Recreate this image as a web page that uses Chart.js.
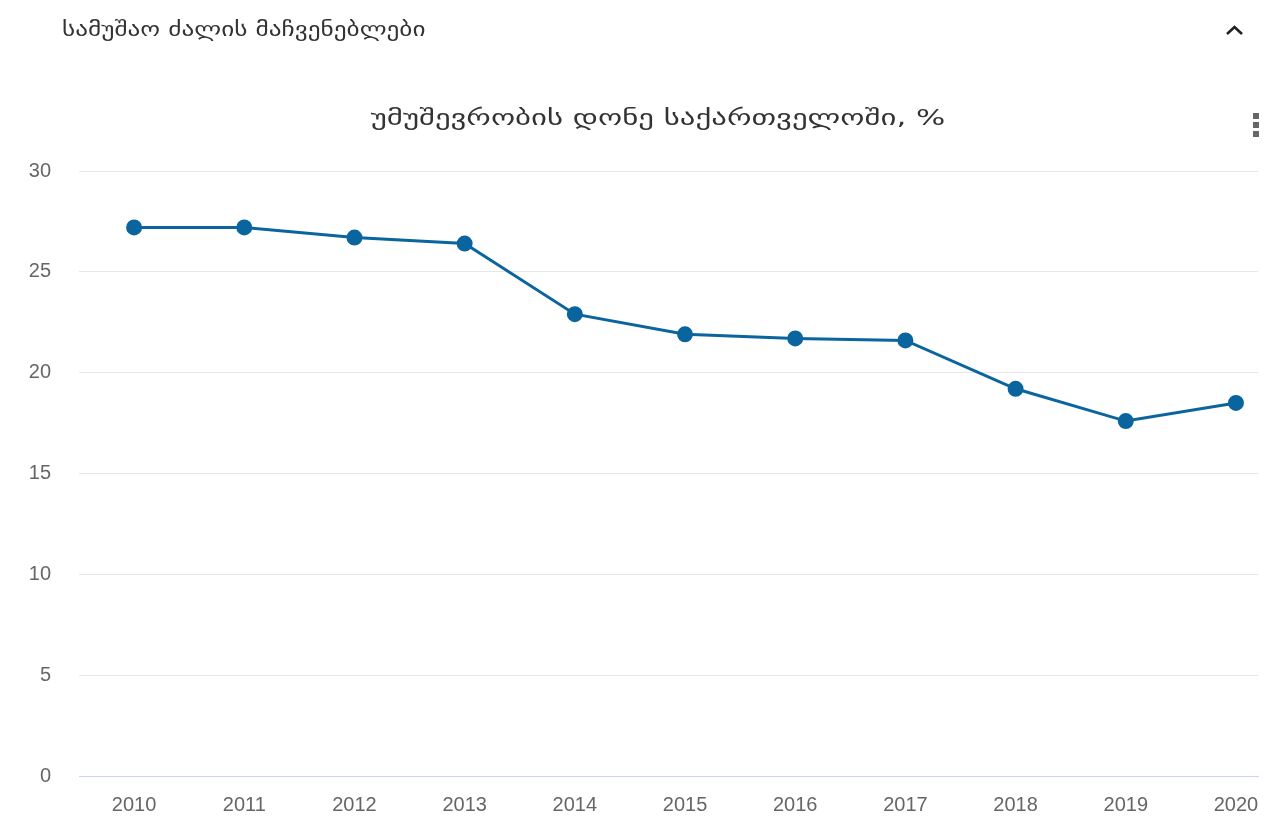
<!DOCTYPE html>
<html>
<head>
<meta charset="utf-8">
<script src="https://cdn.jsdelivr.net/npm/chart.js@4"></script>
<style>
  body { margin: 0; background: #fff; font-family: 'DejaVu Sans', sans-serif; }
  #wrap { position: relative; width: 1272px; height: 825px; }
  #head { position: absolute; left: 62px; top: 18px; font-size: 19px; color: #333; white-space: nowrap;
          transform: scaleX(1.33); transform-origin: left center; }
  #title { position: absolute; left: 0; width: 1316px; top: 105px; text-align: center; font-size: 22px; color: #333;
           white-space: nowrap; transform: scaleX(1.4); transform-origin: 658px center; }
  #toggle { position: absolute; left: 1225px; top: 24px; width: 19px; height: 12px; }
  #menu { position: absolute; left: 1253px; top: 113px; }
  #menu span { display: block; width: 6px; height: 6px; background: #666; margin-bottom: 3px; }
  #box { position: absolute; left: 0; top: 0; width: 1272px; height: 825px; }
</style>
</head>
<body>
<div id="wrap">
  <div id="box"><canvas id="unemp_chart"></canvas></div>
  <div id="head">სამუშაო ძალის მაჩვენებლები</div>
  <div id="title">უმუშევრობის დონე საქართველოში, %</div>
  <svg id="toggle" viewBox="0 0 19 12"><polyline points="2,10 9.5,3 17,10" fill="none" stroke="#222" stroke-width="2.6"/></svg>
  <div id="menu"><span></span><span></span><span></span></div>
</div>
<script>
var years = [2010, 2011, 2012, 2013, 2014, 2015, 2016, 2017, 2018, 2019, 2020];
var rates = [27.2, 27.2, 26.7, 26.4, 22.9, 21.9, 21.7, 21.6, 19.2, 17.6, 18.5];
var yTicks = [0, 5, 10, 15, 20, 25, 30];

function createChart(labels, values){
    const ctx = document.getElementById('unemp_chart');
    const points = labels.map(function(y, i){ return { x: y, y: values[i] }; });
    const data = {
        datasets: [{
          data: points,
          borderColor: '#0a659e',
          backgroundColor: '#0a659e',
          borderWidth: 3,
          pointRadius: 6.5,
          pointHoverRadius: 7,
          tension: 0
        }]
      };
    const option = {
        responsive: true,
        maintainAspectRatio: false,
        animation: false,
        layout: { padding: { left: 0, right: 14, top: 171, bottom: 0 } },
        plugins: {
          legend: { display: false },
          tooltip: { enabled: false },
          title: { display: false }
        },
        scales: {
          x: {
            type: 'linear',
            min: 2009.5,
            max: 2020.2,
            afterBuildTicks: function(scale){
              scale.ticks = labels.map(function(v){ return { value: v }; });
            },
            // the last year label may hang past the plot edge
            afterFit: function(scale){
              scale.height = 49;
              scale.paddingLeft = 0;
              scale.paddingRight = 0;
            },
            grid: { display: false, drawTicks: false },
            border: { color: '#ccd6eb', width: 1 },
            ticks: {
              color: '#666',
              padding: 17,
              font: { family: 'Liberation Sans', size: 20 },
              callback: function(v){ return String(v); },
              maxRotation: 0,
              autoSkip: false
            }
          },
          y: {
            min: 0,
            max: 30,
            afterBuildTicks: function(scale){
              scale.ticks = yTicks.map(function(v){ return { value: v }; });
            },
            afterFit: function(scale){ scale.width = 79; },
            grid: { color: '#e6e6e6', drawTicks: false },
            border: { display: false },
            ticks: {
              color: '#666',
              padding: 28,
              font: { family: 'Liberation Sans', size: 20 }
            }
          }
        }
      };
    const config = {
        type: 'line',
        data: data,
        options: option
      };
    return new Chart(ctx, config);
}

createChart(years, rates);
</script>
</body>
</html>
